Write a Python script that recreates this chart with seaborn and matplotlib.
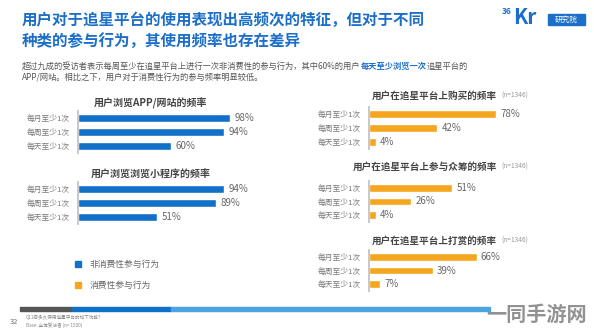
import matplotlib
matplotlib.use("Agg")
import matplotlib.pyplot as plt
import seaborn as sns
import pandas as pd
from matplotlib.patches import Rectangle

# ---------------- data ----------------
categories = ["每月至少1次", "每周至少1次", "每天至少1次"]
app_values = [98, 94, 60]
mini_values = [94, 89, 51]
buy_values = [78, 42, 4]
crowd_values = [51, 26, 4]
tip_values = [66, 39, 7]

title_lines = ["用户对于追星平台的使用表现出高频次的特征，但对于不同",
               "种类的参与行为，其使用频率也存在差异"]
sub_prefix = "超过九成的受访者表示每周至少在追星平台上进行一次非消费性的参与行为，其中60%的用户"
sub_bold = "每天至少浏览一次"
sub_suffix = "追星平台的"
sub_line2 = "APP/网站。相比之下，用户对于消费性行为的参与频率明显较低。"
panel_titles = ["用户浏览APP/网站的频率", "用户浏览浏览小程序的频率",
                "用户在追星平台上购买的频率", "用户在追星平台上参与众筹的频率",
                "用户在追星平台上打赏的频率"]
n_note = "(n=1346)"
legend_labels = ["非消费性参与行为", "消费性参与行为"]

# ---------------- style ----------------
sns.set_theme(style="white")
plt.rcParams["font.family"] = ["Noto Sans CJK SC", "DejaVu Sans"]

BLUE = "#1170C8"
ORANGE = "#F5A61E"
TITLE_BLUE = "#1C6FC8"
GRAY = "#666666"

W, H = 594, 331
fig = plt.figure(figsize=(W / 100, H / 100), dpi=100)
fig.patch.set_facecolor("white")


def fx(x):
    return x / W


def fy(y):
    return 1 - y / H


def add_panel(left, top, width, height, values, color):
    ax = fig.add_axes([fx(left), fy(top + height), width / W, height / H])
    df = pd.DataFrame({"cat": categories, "val": values})
    sns.barplot(data=df, x="val", y="cat", orient="h", color=color,
                width=0.55, ax=ax, saturation=1)
    ax.set_xlim(0, 100)
    ax.set_ylim(2.5, -0.5)
    ax.set_xlabel("")
    ax.set_ylabel("")
    ax.set_xticks([])
    for s in ["top", "right", "bottom"]:
        ax.spines[s].set_visible(False)
    ax.spines["left"].set_color("#c4c4c4")
    ax.spines["left"].set_linewidth(1.3)
    ax.tick_params(axis="y", length=0, pad=6, labelsize=5.6, labelcolor="#7a7a7a")
    ax.set_facecolor("none")
    for c in ax.containers:
        ax.bar_label(c, labels=[f"{v}%" for v in values], padding=3,
                     fontsize=7, color=GRAY)
    return ax


# left panels (non-consumption)
add_panel(78, 111, 155.5, 42, app_values, BLUE)
add_panel(78, 182, 155.5, 42, mini_values, BLUE)
# right panels (consumption)
add_panel(369, 107, 163, 42, buy_values, ORANGE)
add_panel(369, 181, 163, 41, crowd_values, ORANGE)
add_panel(369, 250, 163, 41, tip_values, ORANGE)

# panel titles
fig.text(fx(151), fy(103), panel_titles[0], ha="center", va="center",
         fontsize=7.2, fontweight="bold", color="#444444")
fig.text(fx(151), fy(175), panel_titles[1], ha="center", va="center",
         fontsize=7.2, fontweight="bold", color="#444444")
for y, t in [(96, panel_titles[2]), (167, panel_titles[3]), (241, panel_titles[4])]:
    fig.text(fx(497), fy(y), t, ha="right", va="center",
             fontsize=6.9, fontweight="bold", color="#444444")
    fig.text(fx(501), fy(y), n_note, ha="left", va="center",
             fontsize=4.8, color="#999999")

# main title
fig.text(fx(22), fy(20), title_lines[0], ha="left", va="center",
         fontsize=11.2, fontweight="bold", color=TITLE_BLUE)
fig.text(fx(22), fy(42), title_lines[1], ha="left", va="center",
         fontsize=11.2, fontweight="bold", color=TITLE_BLUE)

# subtitle with bold segment
SUB_FS = 5.95
renderer = fig.canvas.get_renderer()
t1 = fig.text(fx(22), fy(66), sub_prefix, ha="left", va="center",
              fontsize=SUB_FS, color="#555555")
bb = t1.get_window_extent(renderer)
t2 = fig.text(bb.x1 / W, fy(66), sub_bold, ha="left", va="center",
              fontsize=SUB_FS, fontweight="bold", color=TITLE_BLUE)
bb2 = t2.get_window_extent(renderer)
fig.text(bb2.x1 / W, fy(66), sub_suffix, ha="left", va="center",
         fontsize=SUB_FS, color="#555555")
fig.text(fx(22), fy(78), sub_line2, ha="left", va="center",
         fontsize=SUB_FS, color="#555555")

# logo
fig.text(fx(512), fy(11), "36", ha="right", va="center", fontsize=6.0,
         fontweight="bold", color=TITLE_BLUE)
fig.text(fx(513), fy(18), "Kr", ha="left", va="center", fontsize=15,
         fontweight="bold", color=TITLE_BLUE)
fig.patches.append(Rectangle((fx(548), fy(25)), 37 / W, 11 / H,
                             transform=fig.transFigure, color=TITLE_BLUE))
fig.text(fx(566.5), fy(19.5), "研究院", ha="center", va="center",
         fontsize=5.5, color="white")

# legend
fig.patches.append(Rectangle((fx(75), fy(267)), 6 / W, 6 / H,
                             transform=fig.transFigure, color=BLUE))
fig.text(fx(90), fy(264), legend_labels[0], ha="left", va="center",
         fontsize=6.3, color="#666666")
fig.patches.append(Rectangle((fx(75), fy(288)), 6 / W, 6 / H,
                             transform=fig.transFigure, color=ORANGE))
fig.text(fx(90), fy(285), legend_labels[1], ha="left", va="center",
         fontsize=6.3, color="#666666")

# bottom bar
for x0, x1, col in [(20, 72, "#555555"), (72, 171, "#1170C8"), (171, 490, "#4BA3DF")]:
    fig.patches.append(Rectangle((fx(x0), fy(311)), (x1 - x0) / W, 4 / H,
                                 transform=fig.transFigure, color=col))

# footer
fig.text(fx(10), fy(322), "32", ha="left", va="center", fontsize=5.5, color="#777777")
fig.text(fx(26), fy(318), "Q11您多久使用追星平台的如下功能？", ha="left", va="center",
         fontsize=3.3, color="#888888")
fig.text(fx(26), fy(325), "Base: 全体受访者 (n= 1500)", ha="left", va="center",
         fontsize=3.3, color="#888888")

# watermark
fig.text(fx(486), fy(314), "一同手游网", ha="left", va="center", fontsize=14.5,
         fontweight="bold", color="#7f7f7f", alpha=0.85)

fig.savefig("out.png", dpi=100, facecolor="white")
